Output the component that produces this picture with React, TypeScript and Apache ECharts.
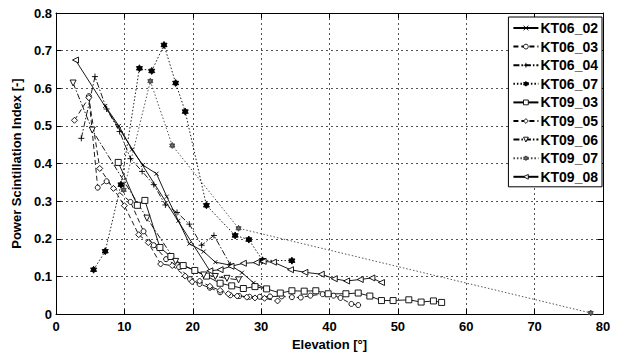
import React, { useEffect, useRef } from "react";
import * as echarts from "echarts";

// ---- data: [elevation (deg), power scintillation index] ----
const kt06_02 = [[7.2,0.553],[9.2,0.5],[11.1,0.437],[12.7,0.396],[14.7,0.373],[16.2,0.312],[17.9,0.248],[19.5,0.187],[21.6,0.166],[23.3,0.138],[25.5,0.13],[27.2,0.11],[28.9,0.083],[30.6,0.068]];
const kt06_03 = [[4.8,0.579],[6.1,0.336],[7.4,0.353],[10.9,0.298],[12.8,0.22],[14.3,0.183],[16.1,0.146],[18.0,0.125],[19.6,0.093],[21.0,0.08],[22.5,0.07],[24.0,0.058],[25.5,0.05],[26.8,0.048],[28.3,0.046],[29.8,0.046],[31.3,0.047],[33.0,0.047],[34.5,0.045],[35.8,0.044],[37.2,0.049],[39.0,0.053],[40.6,0.049],[41.6,0.043],[43.2,0.027],[44.2,0.024]];
const kt06_04 = [[3.7,0.467],[5.7,0.631],[7.4,0.545],[9.3,0.485],[10.9,0.413],[12.6,0.379],[14.3,0.344],[16.0,0.29],[17.7,0.27],[19.5,0.239],[21.3,0.183],[23.1,0.209],[25.5,0.131]];
const kt06_07 = [[5.5,0.118],[7.2,0.167],[9.5,0.344],[12.2,0.653],[14.0,0.646],[15.8,0.715],[17.5,0.614],[18.9,0.538],[22.0,0.289],[26.2,0.209],[28.2,0.198],[30.2,0.143],[34.5,0.142]];
const kt09_03 = [[9.1,0.403],[11.9,0.289],[13.0,0.302],[15.2,0.177],[16.8,0.153],[18.6,0.129],[20.3,0.116],[22.0,0.101],[24.0,0.082],[25.7,0.075],[27.4,0.068],[29.1,0.073],[30.8,0.067],[32.8,0.056],[34.5,0.062],[36.3,0.061],[38.0,0.062],[39.8,0.054],[42.4,0.054],[44.2,0.056],[45.9,0.048],[47.6,0.036],[49.3,0.036],[51.6,0.038],[53.4,0.032],[55.2,0.035],[56.4,0.031]];
const kt09_05 = [[2.7,0.515],[4.8,0.575],[6.4,0.387],[8.4,0.334],[10.0,0.288],[12.1,0.211],[13.5,0.19],[15.3,0.133],[17.0,0.129],[18.9,0.101],[19.9,0.086],[21.0,0.088],[22.5,0.074],[24.0,0.063],[25.2,0.054],[26.5,0.048],[27.9,0.045],[29.1,0.043],[30.5,0.042],[32.4,0.035]];
const kt09_06 = [[2.5,0.614],[5.3,0.489],[13.3,0.255],[17.5,0.14],[21.6,0.104],[23.3,0.1],[25.0,0.095],[26.7,0.091]];
const kt09_07 = [[9.9,0.33],[13.8,0.619],[17.0,0.448],[26.7,0.228],[78.2,0.003]];
const kt09_08 = [[2.85,0.675],[22.5,0.115],[24.0,0.118],[25.6,0.127],[27.4,0.135],[29.3,0.137],[30.3,0.14],[31.8,0.138],[34.3,0.118],[36.4,0.111],[38.8,0.106],[40.7,0.094],[42.5,0.088],[44.5,0.092],[46.2,0.096],[47.6,0.084]];

const seriesNames = ["KT06_02","KT06_03","KT06_04","KT06_07","KT09_03","KT09_05","KT09_06","KT09_07","KT09_08"];
const filledInLegend: Record<string, string> = { KT06_07: "#000", KT09_07: "#777" };

const FONT = "'Liberation Sans', Arial, Helvetica, sans-serif";
const X_SYM = "path://M0,0L10,10M10,0L0,10";
const PLUS_SYM = "path://M5,0L5,10M0,5L10,5";
const HEX_SYM = "path://M5,0L9.33,7.5L0.67,7.5ZM5,10L0.67,2.5L9.33,2.5Z";

const SOLID = "solid";
const DASHED = [5, 3];
const DASHDOT = [6, 2, 1.5, 2];
const DOTTED = [1.5, 2];

export default function App() {
  const ref = useRef<HTMLDivElement>(null);
  useEffect(() => {
    if (!ref.current) return;
    const chart = echarts.init(ref.current, undefined, { renderer: "svg" });
    const mk = (name: string, data: number[][], type: any, symbol: string, size: number, opts: any = {}) => ({
      name,
      type: "line",
      data,
      symbol,
      symbolSize: size,
      symbolRotate: opts.rotate || 0,
      symbolKeepAspect: true,
      showSymbol: true,
      lineStyle: { color: opts.lineColor || "#000", width: 0.9, type },
      itemStyle: { color: opts.fill || "#fff", borderColor: opts.lineColor || "#000", borderWidth: 0.9 },
      emphasis: { disabled: true },
      z: opts.z || 2,
    });
    const axisLabel = { color: "#000", fontFamily: FONT, fontWeight: "bold", fontSize: 13 };
    chart.setOption({
      animation: false,
      grid: { left: 56, right: 16, top: 13, bottom: 34, containLabel: false },
      legend: {
        orient: "vertical",
        right: 17,
        top: 17,
        padding: [4, 4, 3, 4],
        itemWidth: 25,
        itemHeight: 6,
        itemGap: 4.6,
        backgroundColor: "#fff",
        borderColor: "#000",
        borderWidth: 1,
        data: seriesNames.map((n) => ({
          name: n,
          itemStyle: { color: filledInLegend[n] || "#fff", borderColor: n === "KT09_07" ? "#444" : "#000", borderWidth: 0.9 },
        })),
        textStyle: { color: "#000", fontFamily: FONT, fontWeight: "bold", fontSize: 14, lineHeight: 14, padding: [0, 0, 0, -3] },
      },
      xAxis: [
        {
          type: "value", min: 0, max: 80, interval: 10,
          name: "Elevation [°]", nameLocation: "middle", nameGap: 18,
          nameTextStyle: { color: "#000", fontFamily: FONT, fontWeight: "bold", fontSize: 13 },
          axisLine: { onZero: false, lineStyle: { color: "#000", width: 1 } },
          axisTick: { inside: true, length: 5, lineStyle: { color: "#000" } },
          axisLabel: { ...axisLabel, margin: 6 },
          splitLine: { show: true, lineStyle: { color: "#555", type: [2, 3], width: 1 } },
        },
        {
          type: "value", min: 0, max: 80, interval: 10, position: "top",
          axisLine: { onZero: false, lineStyle: { color: "#000", width: 1 } },
          axisTick: { inside: true, length: 5, lineStyle: { color: "#000" } },
          axisLabel: { show: false },
          splitLine: { show: false },
        },
      ],
      yAxis: [
        {
          type: "value", min: 0, max: 0.8, interval: 0.1,
          name: "Power Scintillation Index [-]", nameLocation: "middle", nameGap: 28,
          nameTextStyle: { color: "#000", fontFamily: FONT, fontWeight: "bold", fontSize: 13 },
          axisLine: { onZero: false, lineStyle: { color: "#000", width: 1 } },
          axisTick: { inside: true, length: 5, lineStyle: { color: "#000" } },
          axisLabel: { ...axisLabel, margin: 4 },
          splitLine: { show: true, lineStyle: { color: "#555", type: [2, 3], width: 1 } },
        },
        {
          type: "value", min: 0, max: 0.8, interval: 0.1, position: "right",
          axisLine: { onZero: false, lineStyle: { color: "#000", width: 1 } },
          axisTick: { inside: true, length: 5, lineStyle: { color: "#000" } },
          axisLabel: { show: false },
          splitLine: { show: false },
        },
      ],
      series: [
        mk("KT06_02", kt06_02, SOLID, X_SYM, 4),
        mk("KT06_03", kt06_03, DASHED, "circle", 5),
        mk("KT06_04", kt06_04, DASHDOT, PLUS_SYM, 6),
        mk("KT06_07", kt06_07, DOTTED, HEX_SYM, 7, { fill: "#000" }),
        mk("KT09_03", kt09_03, SOLID, "rect", 6),
        mk("KT09_05", kt09_05, DASHED, "diamond", 6),
        mk("KT09_06", kt09_06, DASHDOT, "triangle", 6, { rotate: 180 }),
        mk("KT09_07", kt09_07, DOTTED, HEX_SYM, 6, { lineColor: "#444", fill: "#777" }),
        mk("KT09_08", kt09_08, SOLID, "triangle", 6, { rotate: 90 }),
      ],
    });
    return () => chart.dispose();
  }, []);
  return (
    <div
      ref={ref}
      style={{ position: "fixed", left: 0, top: 0, width: 619, height: 356, background: "#fff" }}
    />
  );
}
